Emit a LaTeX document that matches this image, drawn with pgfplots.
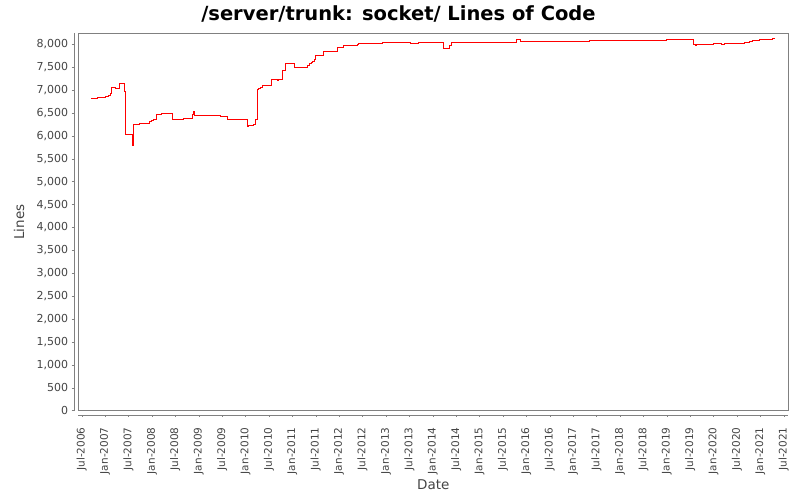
\documentclass[border=0pt]{standalone}
\usepackage{fontspec}
\setmainfont{DejaVu Sans}
\usepackage{pgfplots}
\pgfplotsset{compat=1.18}
\definecolor{axisgray}{HTML}{808080}
\definecolor{labelgray}{HTML}{444444}

\begin{document}
\begin{tikzpicture}
\begin{axis}[
    scale only axis,
    width=710pt, height=377.4pt,
    xmin=2006.427, xmax=2021.598,
    ymin=0, ymax=8240,
    clip=false,
    axis lines*=left,
    axis x line shift=4pt,
    axis y line shift=4.5pt,
    axis line style={draw=axisgray, -},
    tick align=outside,
    major tick length=2.2pt,
    tick style={draw=axisgray, thin},
    xtick={2006.5,2007,2007.5,2008,2008.5,2009,2009.5,2010,2010.5,2011,2011.5,
           2012,2012.5,2013,2013.5,2014,2014.5,2015,2015.5,2016,2016.5,2017,2017.5,
           2018,2018.5,2019,2019.5,2020,2020.5,2021,2021.5},
    xticklabels={Jul-2006,Jan-2007,Jul-2007,Jan-2008,Jul-2008,Jan-2009,Jul-2009,
           Jan-2010,Jul-2010,Jan-2011,Jul-2011,Jan-2012,Jul-2012,Jan-2013,Jul-2013,
           Jan-2014,Jul-2014,Jan-2015,Jul-2015,Jan-2016,Jul-2016,Jan-2017,Jul-2017,
           Jan-2018,Jul-2018,Jan-2019,Jul-2019,Jan-2020,Jul-2020,Jan-2021,Jul-2021},
    ytick={0,500,...,8000},
    scaled y ticks=false,
    /pgf/number format/.cd, 1000 sep={,}, assume math mode=true,
    /pgfplots/.cd,
    xticklabel style={font=\fontsize{10.5}{12}\selectfont, text=labelgray,
        yshift=-7pt, rotate=90, anchor=east},
    yticklabel style={font=\fontsize{11}{13}\selectfont, text=labelgray},
    title={/server/trunk: socket/ Lines of Code},
    title style={font=\fontsize{19.5}{22}\selectfont\bfseries,
        at={(axis description cs:0.451,1)}, anchor=base, yshift=6.6pt},
    xlabel={Date},
    xlabel style={font=\fontsize{13.5}{15}\selectfont, text=labelgray,
        at={(axis description cs:0.5,-0.197)}, anchor=center},
    ylabel={Lines},
    ylabel style={font=\fontsize{13.5}{15}\selectfont, text=labelgray,
        at={(axis description cs:-0.0835,0.5)}, anchor=center},
]
\draw[axisgray] (rel axis cs:0,0) rectangle (rel axis cs:1,1);
\coordinate (bbsw) at (rel axis cs:-0.11028,-0.23662);
\coordinate (bbne) at (rel axis cs:1.01648,1.08824);

\addplot[const plot, red, line width=1pt] coordinates {
    (2006.70, 6821)
    (2006.83, 6843)
    (2007.00, 6865)
    (2007.07, 6878)
    (2007.12, 6915)
    (2007.13, 7060)
    (2007.23, 7040)
    (2007.30, 7148)
    (2007.41, 6974)
    (2007.43, 6041)
    (2007.52, 6020)
    (2007.575, 5795)
    (2007.60, 6253)
    (2007.73, 6275)
    (2007.94, 6325)
    (2008.00, 6340)
    (2008.04, 6355)
    (2008.10, 6471)
    (2008.21, 6478)
    (2008.38, 6493)
    (2008.44, 6362)
    (2008.67, 6384)
    (2008.87, 6471)
    (2008.88, 6543)
    (2008.90, 6460)
    (2008.92, 6450)
    (2009.46, 6434)
    (2009.61, 6347)
    (2009.81, 6362)
    (2010.04, 6201)
    (2010.07, 6223)
    (2010.17, 6245)
    (2010.21, 6362)
    (2010.25, 7002)
    (2010.28, 7040)
    (2010.32, 7060)
    (2010.37, 7111)
    (2010.56, 7236)
    (2010.68, 7220)
    (2010.71, 7236)
    (2010.79, 7432)
    (2010.86, 7585)
    (2011.04, 7504)
    (2011.32, 7540)
    (2011.36, 7585)
    (2011.40, 7613)
    (2011.44, 7635)
    (2011.48, 7657)
    (2011.50, 7760)
    (2011.53, 7745)
    (2011.66, 7847)
    (2011.96, 7934)
    (2012.09, 7963)
    (2012.40, 7993)
    (2012.42, 8022)
    (2012.93, 8044)
    (2013.52, 8022)
    (2013.69, 8044)
    (2014.23, 7913)
    (2014.35, 7963)
    (2014.41, 8044)
    (2015.80, 8109)
    (2015.87, 8070)
    (2017.36, 8087)
    (2018.99, 8109)
    (2019.57, 7985)
    (2019.62, 7963)
    (2019.64, 8000)
    (2020.00, 8022)
    (2020.16, 8000)
    (2020.23, 8022)
    (2020.67, 8044)
    (2020.76, 8065)
    (2020.83, 8087)
    (2020.99, 8109)
    (2021.26, 8131)
    (2021.31, 8131)
};
\end{axis}
\pgfresetboundingbox
\path (bbsw) rectangle (bbne);
\end{tikzpicture}
\end{document}
